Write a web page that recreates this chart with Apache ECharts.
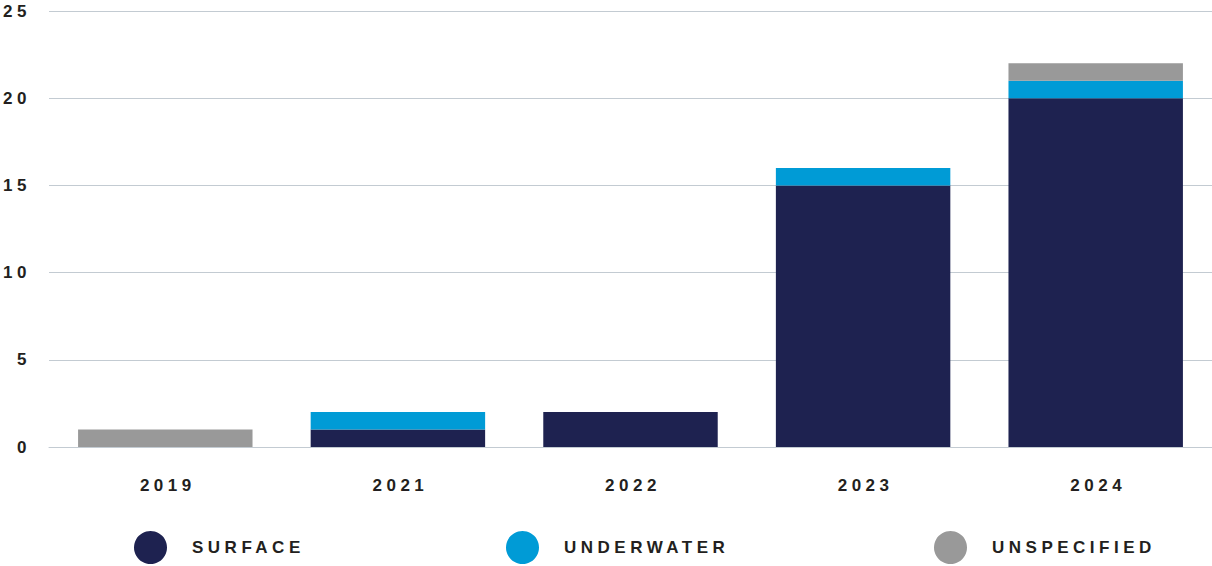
<!DOCTYPE html>
<html>
<head>
<meta charset="utf-8">
<script src="https://cdn.jsdelivr.net/npm/echarts@6/dist/echarts.min.js"></script>
<style>
  html, body { margin: 0; padding: 0; background: #ffffff; }
  #chart { width: 1212px; height: 566px; }
  #chart text { letter-spacing: 4.5px; }
</style>
</head>
<body>
<div id="chart"></div>
<script>
// Yearly counts split by type
const years = ['2019', '2021', '2022', '2023', '2024'];
const surface = [0, 1, 2, 15, 20];
const underwater = [0, 1, 0, 1, 1];
const unspecified = [1, 0, 0, 0, 1];
const yTicks = { min: 0, max: 25, interval: 5 };

const colors = { SURFACE: '#1e2250', UNDERWATER: '#009bd6', UNSPECIFIED: '#999999' };
const textColor = '#231f20';
const lineColor = '#c3cbd2';
const fontFamily = '"Liberation Sans", Arial, sans-serif';

function stackSeries(name, values) {
  return {
    name: name,
    type: 'bar',
    stack: 'total',
    barWidth: '75%',
    itemStyle: { color: colors[name] },
    data: values.map(v => (v === 0 ? null : v))
  };
}

function legendAt(name, left) {
  return {
    data: [name],
    left: left,
    top: 526,
    icon: 'circle',
    itemWidth: 33,
    itemHeight: 33,
    selectedMode: false,
    textStyle: {
      color: textColor,
      fontSize: 17,
      fontWeight: 'bold',
      fontFamily: fontFamily,
      padding: [0, 0, 0, 20]
    }
  };
}

const chart = echarts.init(document.getElementById('chart'), null, { renderer: 'svg' });
chart.setOption({
  animation: false,
  grid: { left: 49, right: 0, top: 11, bottom: 119 },
  legend: [
    legendAt('SURFACE', 129),
    legendAt('UNDERWATER', 501),
    legendAt('UNSPECIFIED', 929)
  ],
  xAxis: {
    type: 'category',
    data: years,
    axisLine: { lineStyle: { color: lineColor, width: 1 } },
    axisTick: { show: false },
    axisLabel: {
      margin: 30,
      padding: [0, 0, 0, 5],
      color: textColor,
      fontSize: 17,
      fontWeight: 'bold',
      fontFamily: fontFamily
    }
  },
  yAxis: {
    type: 'value',
    min: yTicks.min,
    max: yTicks.max,
    interval: yTicks.interval,
    axisLine: { show: false },
    axisTick: { show: false },
    splitLine: { lineStyle: { color: lineColor, width: 1 } },
    axisLabel: {
      margin: 18,
      color: textColor,
      fontSize: 17,
      fontWeight: 'bold',
      fontFamily: fontFamily
    }
  },
  series: [
    stackSeries('SURFACE', surface),
    stackSeries('UNDERWATER', underwater),
    stackSeries('UNSPECIFIED', unspecified)
  ]
});
</script>
</body>
</html>
